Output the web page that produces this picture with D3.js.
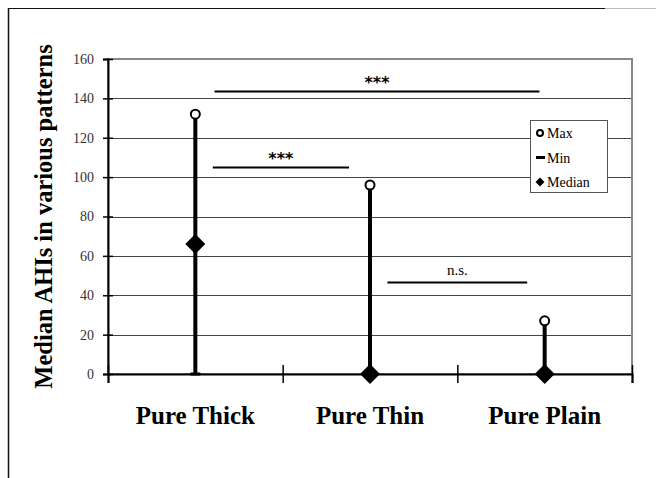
<!DOCTYPE html>
<html><head><meta charset="utf-8">
<script src="https://cdn.jsdelivr.net/npm/d3@7"></script>
<style>body{margin:0;background:#fff}svg{display:block}</style>
</head><body>
<script>
const categories = ["Pure Thick", "Pure Thin", "Pure Plain"];
const maxValues = [132, 96, 27];
const minValues = [0, 0, 0];
const medianValues = [66, 0, 0];
const yTicks = [0, 20, 40, 60, 80, 100, 120, 140, 160];
const yLabel = "Median AHIs in various patterns";
const legendLabels = ["Max", "Min", "Median"];
// significance brackets: span in category units along the x axis, height in data units, label
const sigLabels = ["***", "***", "n.s."];
const sigValues = [144, 105, 46.5];
const sigFrom = [0.61, 0.6, 1.6];
const sigTo = [2.47, 1.38, 2.4];

(function () {
const W = 656, H = 478;
const svg = d3.select("body").append("svg").attr("width", W).attr("height", H);
const pL = 108, pR = 632, pT = 59, pB = 374;
const x = d3.scaleBand().domain(categories).range([pL, pR]);
const xl = d3.scaleLinear().domain([0, 3]).range([pL, pR]);
const y = d3.scaleLinear().domain([0, 160]).range([pB, pT]);

// outer frame
svg.append("line").attr("x1", 8).attr("x2", 605).attr("y1", 8.5).attr("y2", 8.5).attr("stroke", "#111").attr("stroke-width", 1.2);
svg.append("line").attr("x1", 605).attr("x2", 656).attr("y1", 8.5).attr("y2", 8.5).attr("stroke", "#bbb").attr("stroke-width", 1);
svg.append("line").attr("x1", 8.5).attr("x2", 8.5).attr("y1", 8).attr("y2", H).attr("stroke", "#111").attr("stroke-width", 1.5);

// gridlines
svg.append("g").selectAll("line").data(yTicks.filter(d => d > 0 && d < 160)).join("line")
  .attr("x1", pL).attr("x2", pR).attr("y1", d => Math.round(y(d)) + 0.5).attr("y2", d => Math.round(y(d)) + 0.5)
  .attr("stroke", "#444").attr("stroke-width", 1);
// plot border
svg.append("rect").attr("x", pL).attr("y", pT).attr("width", pR - pL).attr("height", pB - pT)
  .attr("fill", "none").attr("stroke", "#888").attr("stroke-width", 2);

// y axis
const ya = svg.append("g").attr("transform", `translate(${pL},0)`)
  .call(d3.axisLeft(y).tickValues(yTicks).tickSize(5).tickPadding(9));
ya.select(".domain").attr("stroke", "#000").attr("stroke-width", 2);
ya.selectAll(".tick line").attr("stroke", "#000").attr("stroke-width", 1.5).attr("x2", 5).attr("x1", -5);
ya.selectAll(".tick text").attr("font-family", "Liberation Serif").attr("font-size", 14).attr("fill", "#333");

// x axis
const xa = svg.append("g").attr("transform", `translate(0,${pB})`)
  .call(d3.axisBottom(xl).tickValues([0, 1, 2, 3]).tickFormat("").tickSize(9));
xa.select(".domain").attr("stroke", "#000").attr("stroke-width", 2);
xa.selectAll(".tick line").attr("stroke", "#000").attr("stroke-width", 1.5).attr("y1", -9);
svg.append("g").selectAll("text").data(categories).join("text")
  .attr("x", d => x(d) + x.bandwidth() / 2).attr("y", 424)
  .attr("text-anchor", "middle").attr("font-family", "Liberation Serif").attr("font-weight", "bold")
  .attr("font-size", 25).text(d => d);

// y label
svg.append("text").attr("transform", `translate(52,${(pT + pB) / 2}) rotate(-90)`)
  .attr("text-anchor", "middle").attr("font-family", "Liberation Serif").attr("font-weight", "bold")
  .attr("font-size", 24.5).text(yLabel);

// stems
const cx = i => x(categories[i]) + x.bandwidth() / 2;
svg.append("g").selectAll("line").data(categories).join("line")
  .attr("x1", (d, i) => cx(i)).attr("x2", (d, i) => cx(i))
  .attr("y1", (d, i) => y(maxValues[i])).attr("y2", (d, i) => y(minValues[i]))
  .attr("stroke", "#000").attr("stroke-width", 4);
// min dashes
svg.append("g").selectAll("line").data(categories).join("line")
  .attr("x1", (d, i) => cx(i) - 5).attr("x2", (d, i) => cx(i) + 5)
  .attr("y1", (d, i) => y(minValues[i])).attr("y2", (d, i) => y(minValues[i]))
  .attr("stroke", "#000").attr("stroke-width", 3);
// max circles
svg.append("g").selectAll("circle").data(categories).join("circle")
  .attr("cx", (d, i) => cx(i)).attr("cy", (d, i) => y(maxValues[i])).attr("r", 4.5)
  .attr("fill", "#fff").attr("stroke", "#000").attr("stroke-width", 2);
// median diamonds
svg.append("g").selectAll("path").data(categories).join("path")
  .attr("transform", (d, i) => `translate(${cx(i)},${y(medianValues[i])}) rotate(45)`)
  .attr("d", d3.symbol().type(d3.symbolSquare).size(200)).attr("fill", "#000");

// significance
sigLabels.forEach((lab, i) => {
  const yy = Math.round(y(sigValues[i])) + 0.5;
  svg.append("line").attr("x1", xl(sigFrom[i])).attr("x2", xl(sigTo[i])).attr("y1", yy).attr("y2", yy)
    .attr("stroke", "#000").attr("stroke-width", 2);
  svg.append("text").attr("x", (xl(sigFrom[i]) + xl(sigTo[i])) / 2).attr("y", lab === "n.s." ? yy - 8 : yy - 4)
    .attr("text-anchor", "middle").attr("font-family", lab === "n.s." ? "Liberation Serif" : "DejaVu Sans")
    .attr("font-weight", lab === "n.s." ? "normal" : "bold")
    .attr("font-size", lab === "n.s." ? 15 : 16).text(lab);
});

// legend
const lg = svg.append("g");
lg.append("rect").attr("x", 530.5).attr("y", 120.5).attr("width", 77).attr("height", 72)
  .attr("fill", "#fff").attr("stroke", "#555").attr("stroke-width", 1);
legendLabels.forEach((lab, i) => {
  const ly = 133 + i * 24.5;
  if (i === 0) lg.append("circle").attr("cx", 540).attr("cy", ly).attr("r", 3).attr("fill", "#fff").attr("stroke", "#000").attr("stroke-width", 2);
  if (i === 1) lg.append("line").attr("x1", 536).attr("x2", 545).attr("y1", ly).attr("y2", ly).attr("stroke", "#000").attr("stroke-width", 3);
  if (i === 2) lg.append("path").attr("transform", `translate(540,${ly}) rotate(45)`).attr("d", d3.symbol().type(d3.symbolSquare).size(40)).attr("fill", "#000");
  lg.append("text").attr("x", 547).attr("y", ly + 5).attr("font-family", "Liberation Serif").attr("font-size", 14).text(lab);
});
})();
</script>
</body></html>
